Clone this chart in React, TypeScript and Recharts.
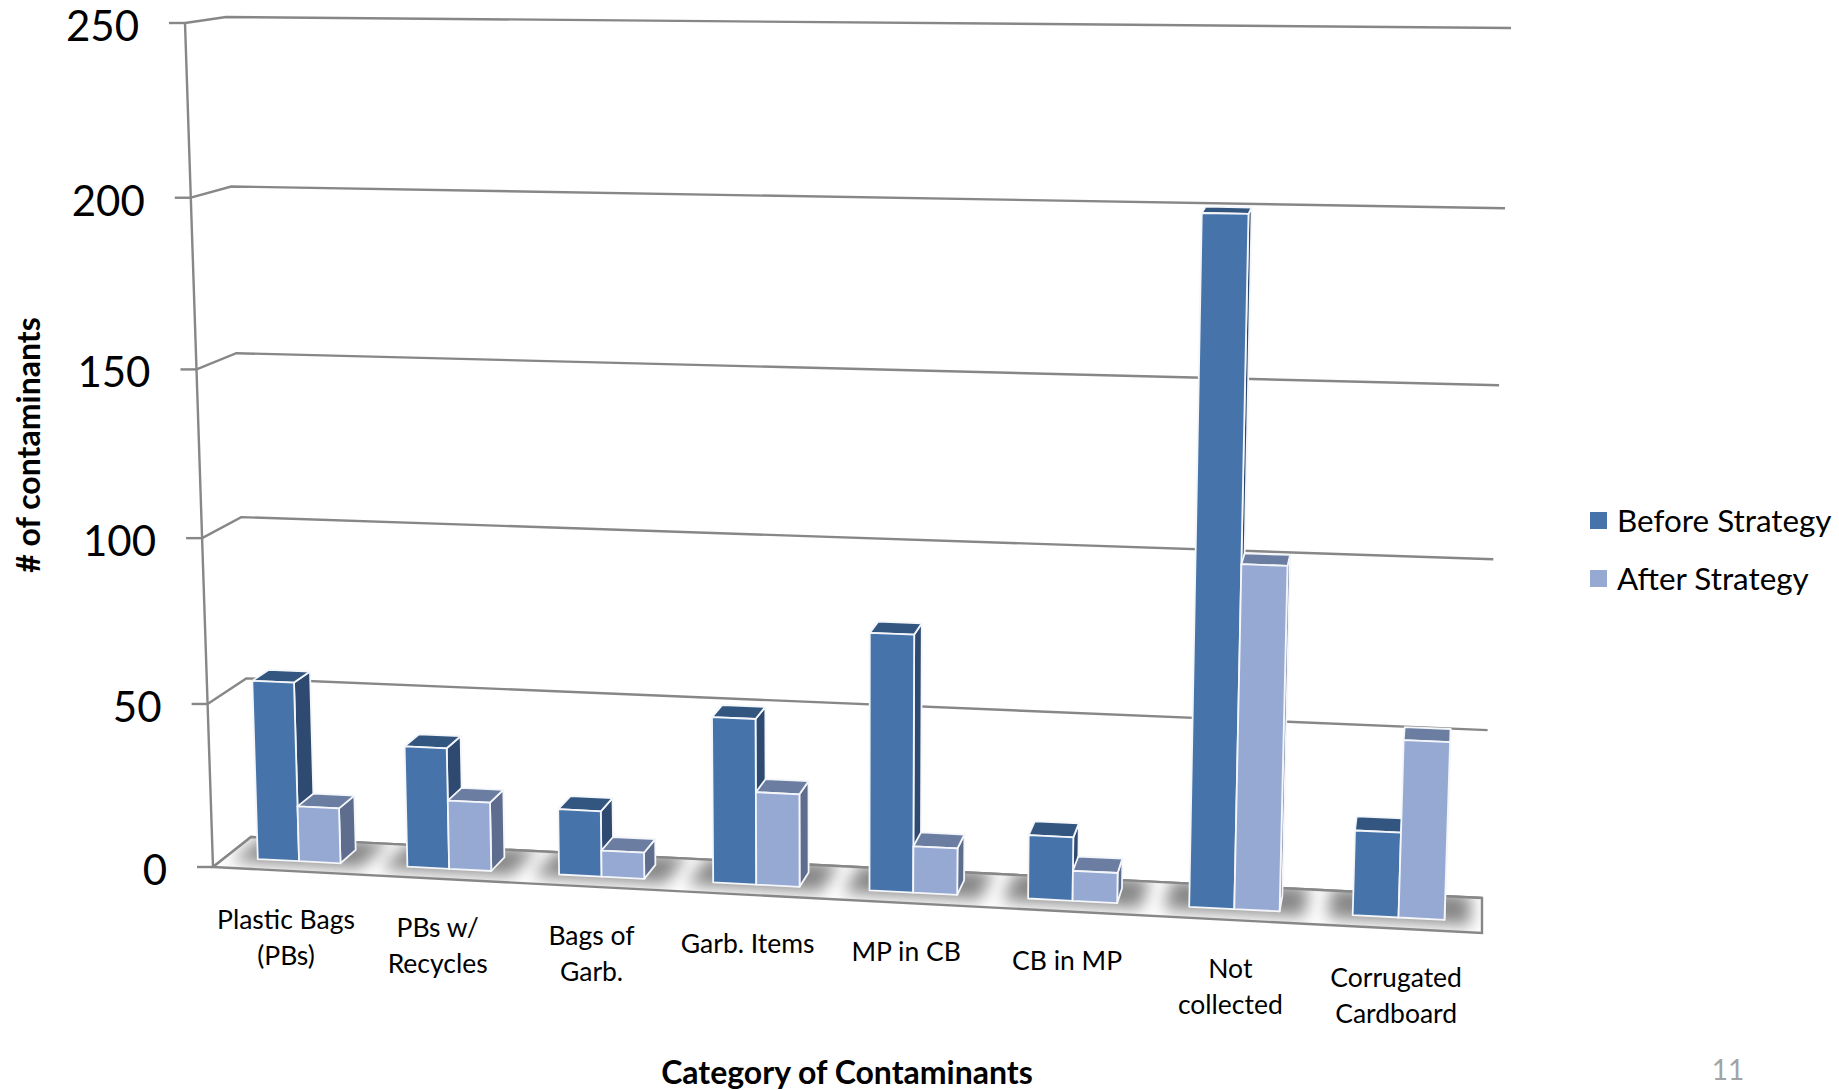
import { BarChart, Bar, XAxis, YAxis, CartesianGrid, Legend, Customized } from 'recharts';

const categories = [
  'Plastic Bags\n(PBs)',
  'PBs w/\nRecycles',
  'Bags of\nGarb.',
  'Garb. Items',
  'MP in CB',
  'CB in MP',
  'Not\ncollected',
  'Corrugated\nCardboard',
];
const beforeStrategy = [55, 37, 20, 50, 77, 19, 200, 25];
const afterStrategy = [17, 21, 8, 28, 14, 9, 101, 52];
const valueTicks = [0, 50, 100, 150, 200, 250];
const seriesOrder = ['Before Strategy', 'After Strategy'];

const data = categories.map((name, i) => ({
  name,
  before: beforeStrategy[i],
  after: afterStrategy[i],
}));

type Pt = [number, number];

// flat plot rectangle handed to recharts; everything is projected out of it
const LEFT = 213;
const RIGHT = 1482;
const TOP = 23;
const BOTTOM = 867;
const GRID = '#878787';
const FONT = 'Lato, Carlito, sans-serif';

// unit square -> quad (order: u0v0, u1v0, u1v1, u0v1)
function quadMap(p0: Pt, p1: Pt, p2: Pt, p3: Pt) {
  const dx1 = p1[0] - p2[0];
  const dx2 = p3[0] - p2[0];
  const dy1 = p1[1] - p2[1];
  const dy2 = p3[1] - p2[1];
  const sx = p0[0] - p1[0] + p2[0] - p3[0];
  const sy = p0[1] - p1[1] + p2[1] - p3[1];
  const det = dx1 * dy2 - dx2 * dy1;
  const g = (sx * dy2 - dx2 * sy) / det;
  const h = (dx1 * sy - sx * dy1) / det;
  const a = p1[0] - p0[0] + g * p1[0];
  const b = p3[0] - p0[0] + h * p3[0];
  const d = p1[1] - p0[1] + g * p1[1];
  const e = p3[1] - p0[1] + h * p3[1];
  return (u: number, v: number): Pt => {
    const w = g * u + h * v + 1;
    return [(a * u + b * v + p0[0]) / w, (d * u + e * v + p0[1]) / w];
  };
}

const frontPlane = quadMap([213, 867], [1482, 933], [1512, 38], [185, 23]);
const backPlane = quadMap([251, 837], [1482, 898], [1511, 28], [226, 17]);

// u across categories, v up the value axis, z into the depth
function project(u: number, v: number, z: number): Pt {
  const f = frontPlane(u, v);
  const b = backPlane(u, v);
  return [f[0] + (b[0] - f[0]) * z, f[1] + (b[1] - f[1]) * z];
}

const toU = (x: number) => (x - LEFT) / (RIGHT - LEFT);
const toV = (y: number) => (BOTTOM - y) / (BOTTOM - TOP);
const poly = (pts: Pt[]) => pts.map((p) => `${p[0].toFixed(1)},${p[1].toFixed(1)}`).join(' ');

const BAR_FRONT_Z = 0.32;
const BAR_BACK_Z = 0.76;

function Box3D(props: any) {
  const { x, y, width, height, fill, topFill, sideFill } = props;
  const u0 = toU(x);
  const u1 = toU(x + width);
  const v1 = toV(y);
  const v0 = toV(y + height);
  const zf = BAR_FRONT_Z;
  const zb = BAR_BACK_Z;
  const edge = { stroke: '#f4f6fa', strokeWidth: 1.8, strokeLinejoin: 'round' as const };
  return (
    <g>
      <polygon
        points={poly([project(u1, v0, zf), project(u1, v0, zb), project(u1, v1, zb), project(u1, v1, zf)])}
        fill={sideFill}
        {...edge}
      />
      <polygon
        points={poly([project(u0, v1, zf), project(u1, v1, zf), project(u1, v1, zb), project(u0, v1, zb)])}
        fill={topFill}
        {...edge}
      />
      <polygon
        points={poly([project(u0, v0, zf), project(u1, v0, zf), project(u1, v1, zf), project(u0, v1, zf)])}
        fill={fill}
        {...edge}
      />
    </g>
  );
}

// floor with soft shadows under each cluster, left wall edge, static titles
function Floor() {
  const corners = [project(0, 0, 0), project(1, 0, 0), project(1, 0, 1), project(0, 0, 1)];
  const band = 1 / categories.length;
  return (
    <g>
      <defs>
        <clipPath id="floor-clip">
          <polygon points={poly(corners)} />
        </clipPath>
        <filter id="floor-blur" x="-30%" y="-60%" width="160%" height="220%">
          <feGaussianBlur stdDeviation="8" />
        </filter>
      </defs>
      <polygon points={poly(corners)} fill="#fff" />
      <g clipPath="url(#floor-clip)">
        {categories.map((_, i) => {
          const c = band * (i + 0.5);
          const w = band * 0.43;
          return (
            <polygon
              key={i}
              points={poly([project(c - w, 0, 0.2), project(c + w, 0, 0.2), project(c + w, 0, 1.1), project(c - w, 0, 1.1)])}
              fill="#878787"
              filter="url(#floor-blur)"
            />
          );
        })}
      </g>
      <polygon points={poly(corners)} fill="none" stroke={GRID} strokeWidth={2.4} />
      <line
        x1={project(0, 0, 0)[0]}
        y1={project(0, 0, 0)[1]}
        x2={project(0, 1, 0)[0]}
        y2={project(0, 1, 0)[1]}
        stroke={GRID}
        strokeWidth={2.4}
      />
      <text
        x={847}
        y={1083.5}
        textAnchor="middle"
        fontFamily={FONT}
        fontWeight={700}
        fontSize={32}
        fill="#000"
      >
        Category of Contaminants
      </text>
      <text
        transform="translate(40,445) rotate(-90)"
        textAnchor="middle"
        fontFamily={FONT}
        fontWeight={700}
        fontSize={32}
        fill="#000"
      >
        # of contaminants
      </text>
      <text x={1728} y={1080} textAnchor="middle" fontFamily={FONT} fontSize={28} fill="#a3a3a3">
        11
      </text>
    </g>
  );
}

// value gridline: across the left wall, then along the back wall
function GridLine(props: any) {
  const v = toV(props.y1);
  return (
    <polyline
      key={props.key}
      points={poly([project(0, v, 0), project(0, v, 1), project(1, v, 1)])}
      fill="none"
      stroke={GRID}
      strokeWidth={2.4}
    />
  );
}

function ValueTick(props: any) {
  const { y, payload } = props;
  const p = project(0, toV(y), 0);
  return (
    <g>
      <line x1={p[0] - 16} y1={p[1]} x2={p[0]} y2={p[1]} stroke={GRID} strokeWidth={2.4} />
      <text
        x={p[0] - 46}
        y={p[1] + 18}
        textAnchor="end"
        fontFamily={FONT}
        fontSize={42}
        fill="#000"
      >
        {payload.value}
      </text>
    </g>
  );
}

function CategoryTick(props: any) {
  const { x, payload } = props;
  const p = project(toU(x), 0, 0);
  const lines = String(payload.value).split('\n');
  return (
    <text textAnchor="middle" fontFamily={FONT} fontSize={26.5} fill="#000">
      {lines.map((line, i) => (
        <tspan key={i} x={p[0] - 2} y={p[1] + 58 + i * 36}>
          {line}
        </tspan>
      ))}
    </text>
  );
}

function LegendBox(props: any) {
  return (
    <div style={{ fontFamily: FONT, fontSize: 31.4, color: '#000' }}>
      {props.payload.map((item: any) => (
        <div key={item.value} style={{ display: 'flex', alignItems: 'center', height: 58 }}>
          <span style={{ width: 17, height: 17, background: item.color, marginRight: 10 }} />
          {item.value}
        </div>
      ))}
    </div>
  );
}

export default function App() {
  return (
    <div style={{ position: 'absolute', left: 0, top: 0, width: 1839, height: 1090 }}>
      <BarChart
        width={1839}
        height={1090}
        data={data}
        barCategoryGap="22%"
        barGap={0}
        margin={{ top: TOP, left: LEFT - 60, right: 1839 - RIGHT, bottom: 1090 - BOTTOM - 60 }}
      >
        <Customized component={Floor} />
        <CartesianGrid vertical={false} horizontal={GridLine} />
        <XAxis dataKey="name" interval={0} height={60} axisLine={false} tickLine={false} tick={CategoryTick} />
        <YAxis
          width={60}
          domain={[0, 250]}
          ticks={valueTicks}
          interval={0}
          axisLine={false}
          tickLine={false}
          tick={ValueTick}
        />
        <Legend
          content={LegendBox}
          layout="vertical"
          align="center"
          verticalAlign="middle"
          itemSorter={(item: any) => seriesOrder.indexOf(item.value)}
          wrapperStyle={{ position: 'absolute', left: 1590, top: 491, width: 249, bottom: 'auto' }}
        />
        <Bar
          dataKey="before"
          name="Before Strategy"
          fill="#4674aa"
          isAnimationActive={false}
          shape={(p: any) => <Box3D {...p} topFill="#32567f" sideFill="#2e4a70" />}
        />
        <Bar
          dataKey="after"
          name="After Strategy"
          fill="#95a9d2"
          isAnimationActive={false}
          shape={(p: any) => <Box3D {...p} topFill="#6b7ea1" sideFill="#5e6d8e" />}
        />
      </BarChart>
    </div>
  );
}
